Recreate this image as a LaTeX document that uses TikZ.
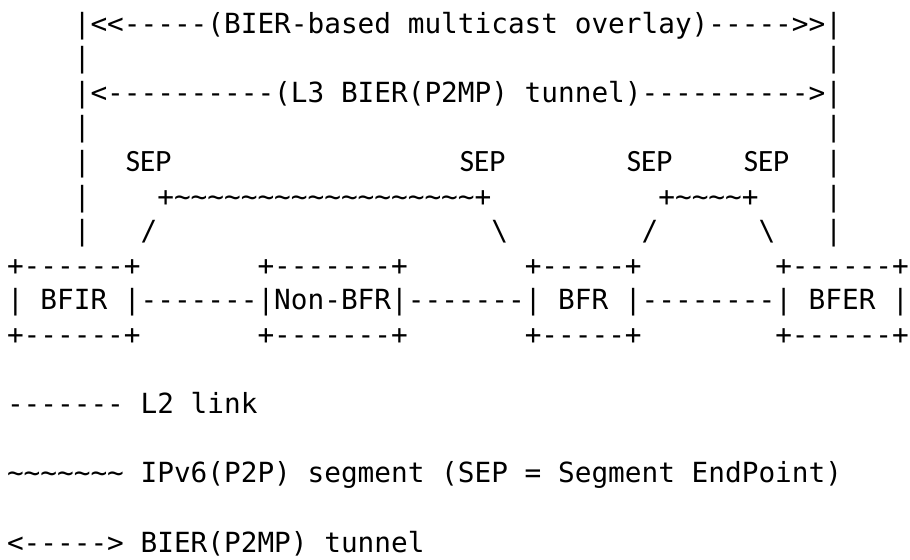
\documentclass[tikz,border=0pt]{standalone}
\usepackage{fontspec}
\setmonofont{DejaVu Sans Mono}
\newfontfamily\sepfont{Carlito}
\usetikzlibrary{positioning}

\newcommand{\asciisize}{\fontsize{13.87pt}{17pt}\selectfont}
\newcommand{\waves}[1]{\foreach \k in {1,...,#1}{\char"7E}}

\begin{document}
\begin{tikzpicture}[
x=8.35pt, y=-17.3pt,
ascii/.style={font=\ttfamily\asciisize, anchor=base west, inner sep=0pt, yshift=-5pt},
seplbl/.style={font=\sepfont\fontsize{15.5pt}{17pt}\selectfont, anchor=base, inner sep=0pt, yshift=-4.9pt}
]
\useasboundingbox (-0.898,0.335) rectangle (53.593,16.52);

% tunnels
\node[ascii] (overlay) at (3.5,1) {|<<-----(BIER-based multicast overlay)----->>|};
\node[ascii] (tunnel) at (3.5,3) {|<----------(L3 BIER(P2MP) tunnel)---------->|};
\foreach \r in {2,4,5,6,7} {
  \node[ascii] (lbar\r) at (3.5,\r) {|};
  \node[ascii] (rbar\r) at (48.5,\r) {|};
}

% segments
\node[seplbl] (sep1) at (8,5) {SEP};
\node[seplbl] (sep2) at (28,5) {SEP};
\node[seplbl] (sep3) at (38,5) {SEP};
\node[seplbl] (sep4) at (45,5) {SEP};
\node[ascii] (seg1) at (8.5,6) {+\waves{18}+};
\node[ascii] (seg2) at (38.5,6) {+\waves{4}+};
\node[ascii] (up1) at (7.5,7) {/};
\node[ascii] (dn1) at (28.5,7) {\textbackslash};
\node[ascii] (up2) at (37.5,7) {/};
\node[ascii] (dn2) at (44.5,7) {\textbackslash};

% routers
\node[ascii] (bfirtop) at (-0.5,8) {+------+};
\node[ascii] (nbfrtop) at (14.5,8) {+-------+};
\node[ascii] (bfrtop) at (30.5,8) {+-----+};
\node[ascii] (bfertop) at (45.5,8) {+------+};
\node[ascii] (bfir) at (-0.5,9) {| BFIR |};
\node[ascii] (link1) at (7.5,9) {-------};
\node[ascii] (nbfr) at (14.5,9) {|Non-BFR|};
\node[ascii] (link2) at (23.5,9) {-------};
\node[ascii] (bfr) at (30.5,9) {| BFR |};
\node[ascii] (link3) at (37.5,9) {--------};
\node[ascii] (bfer) at (45.5,9) {| BFER |};
\node[ascii] (bfirbot) at (-0.5,10) {+------+};
\node[ascii] (nbfrbot) at (14.5,10) {+-------+};
\node[ascii] (bfrbot) at (30.5,10) {+-----+};
\node[ascii] (ferbot) at (45.5,10) {+------+};

% legend
\node[ascii] (keyl2) at (-0.5,12) {------- L2 link};
\node[ascii] (keyseg) at (-0.5,14) {\waves{7} IPv6(P2P) segment (SEP = Segment EndPoint)};
\node[ascii] (keytun) at (-0.5,16) {<-----> BIER(P2MP) tunnel};

\end{tikzpicture}
\end{document}
